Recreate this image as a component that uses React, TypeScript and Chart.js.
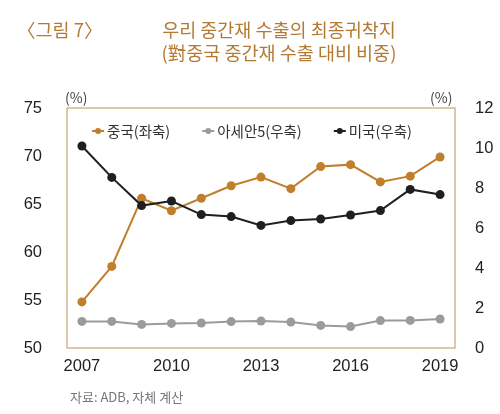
import React, { useEffect, useRef } from 'react';
import { Chart, registerables } from 'chart.js';

Chart.register(...registerables);

// ---- data ----
const years = ['2007', '2008', '2009', '2010', '2011', '2012', '2013', '2014', '2015', '2016', '2017', '2018', '2019'];
const chinaShare = [54.8, 58.5, 65.6, 64.3, 65.6, 66.9, 67.8, 66.6, 68.9, 69.1, 67.3, 67.9, 69.9];
const aseanShare = [1.33, 1.33, 1.18, 1.23, 1.25, 1.32, 1.35, 1.3, 1.13, 1.07, 1.37, 1.38, 1.45];
const usShare = [10.1, 8.53, 7.12, 7.35, 6.67, 6.57, 6.13, 6.37, 6.45, 6.65, 6.87, 7.93, 7.67];
const leftTicks = [50, 55, 60, 65, 70, 75];
const rightTicks = [0, 2, 4, 6, 8, 10, 12];
const seriesLabels = ['중국(좌축)', '아세안5(우축)', '미국(우축)'];

const KR = '"Noto Sans CJK KR", "Noto Sans", sans-serif';
const NUM = '"Liberation Sans", Arial, sans-serif';
const TITLE_COLOR = '#b47a33';
const FRAME = '#c9ad7e';

const frameAndLegend = {
  id: 'frameAndLegend',
  afterDatasetsDraw(chart: any) {
    const { ctx, chartArea } = chart;
    ctx.save();
    ctx.strokeStyle = FRAME;
    ctx.lineWidth = 1.3;
    ctx.strokeRect(chartArea.left, chartArea.top, chartArea.right - chartArea.left, chartArea.bottom - chartArea.top);

    // legend inside the plot area
    ctx.font = `14.5px ${KR}`;
    ctx.textBaseline = 'middle';
    const iconW = 12;
    const iconGap = 3;
    const itemGap = 32;
    const items = chart.data.datasets.map((ds: any) => ({
      text: ds.label,
      color: ds.borderColor,
      w: ctx.measureText(ds.label).width,
    }));
    const total = items.reduce((a: number, it: any) => a + iconW + iconGap + it.w, 0) + itemGap * (items.length - 1);
    let x = (chartArea.left + chartArea.right) / 2 - total / 2 - 9;
    const y = chartArea.top + 23;
    items.forEach((it: any) => {
      ctx.strokeStyle = it.color;
      ctx.fillStyle = it.color;
      ctx.lineWidth = 2;
      ctx.beginPath();
      ctx.moveTo(x, y);
      ctx.lineTo(x + iconW, y);
      ctx.stroke();
      ctx.beginPath();
      ctx.arc(x + iconW / 2, y, 3, 0, Math.PI * 2);
      ctx.fill();
      ctx.fillStyle = '#333';
      ctx.fillText(it.text, x + iconW + iconGap, y + 0.5);
      x += iconW + iconGap + it.w + itemGap;
    });
    ctx.restore();
  },
};

export default function App() {
  const ref = useRef<HTMLCanvasElement>(null);

  useEffect(() => {
    if (!ref.current) return;
    const mk = (label: string, data: number[], color: string, axis: string, order: number) => ({
      label,
      data,
      borderColor: color,
      backgroundColor: color,
      pointBackgroundColor: color,
      pointBorderWidth: 0,
      pointRadius: 4.5,
      borderWidth: 2,
      tension: 0,
      yAxisID: axis,
      order,
    });
    const chart = new Chart(ref.current, {
      type: 'line',
      data: {
        labels: years,
        datasets: [
          mk(seriesLabels[0], chinaShare, '#c17f2c', 'y', 2),
          mk(seriesLabels[1], aseanShare, '#9b9b9b', 'y1', 3),
          mk(seriesLabels[2], usShare, '#1f1f1f', 'y1', 1),
        ],
      },
      options: {
        responsive: false,
        animation: false,
        devicePixelRatio: 1,
        layout: { padding: { top: 108, bottom: 36, left: 0, right: 0 } },
        plugins: {
          legend: { display: false },
          tooltip: { enabled: false },
        },
        scales: {
          x: {
            type: 'category',
            offset: true,
            grid: { display: false },
            border: { display: false },
            ticks: {
              autoSkip: false,
              maxRotation: 0,
              padding: 1,
              color: '#222',
              font: { family: NUM, size: 16.5 },
              callback: (_v: any, i: number) => (i % 3 === 0 ? years[i] : ''),
            },
            afterFit: (s: any) => {
              s.height = 30;
            },
          },
          y: {
            position: 'left',
            min: leftTicks[0],
            max: leftTicks[leftTicks.length - 1],
            grid: { display: false },
            border: { display: false },
            ticks: {
              stepSize: leftTicks[1] - leftTicks[0],
              padding: 17,
              color: '#222',
              font: { family: NUM, size: 16.5 },
            },
            afterFit: (s: any) => {
              s.width = 67;
            },
          },
          y1: {
            position: 'right',
            min: rightTicks[0],
            max: rightTicks[rightTicks.length - 1],
            grid: { display: false },
            border: { display: false },
            ticks: {
              stepSize: rightTicks[1] - rightTicks[0],
              padding: 12,
              color: '#222',
              font: { family: NUM, size: 16.5 },
            },
            afterFit: (s: any) => {
              s.width = 45;
            },
          },
        },
      },
      plugins: [frameAndLegend],
    } as any);
    return () => chart.destroy();
  }, []);

  const abs = (extra: React.CSSProperties): React.CSSProperties => ({
    position: 'absolute',
    fontFamily: KR,
    whiteSpace: 'nowrap',
    ...extra,
  });

  return (
    <div style={{ position: 'fixed', left: 0, top: 0, width: 500, height: 414, background: '#fff', overflow: 'hidden' }}>
      <canvas ref={ref} width={500} height={414} style={{ position: 'absolute', left: 0, top: 0, width: 500, height: 414 }} />
      <div style={abs({ left: 17, top: 18, fontSize: 18.5, lineHeight: '23px', color: TITLE_COLOR })}>〈그림 7〉</div>
      <div style={abs({ left: 149, top: 18, width: 260, textAlign: 'center', fontSize: 18.5, lineHeight: '22.5px', color: TITLE_COLOR })}>
        우리 중간재 수출의 최종귀착지
        <br />
        (對중국 중간재 수출 대비 비중)
      </div>
      <div style={abs({ left: 65, top: 87, fontSize: 14, lineHeight: '20px', color: '#444' })}>(%)</div>
      <div style={abs({ left: 430, top: 87, fontSize: 14, lineHeight: '20px', color: '#444' })}>(%)</div>
      <div style={abs({ left: 70, top: 387, fontSize: 13, lineHeight: '20px', color: '#777' })}>자료: ADB, 자체 계산</div>
    </div>
  );
}
